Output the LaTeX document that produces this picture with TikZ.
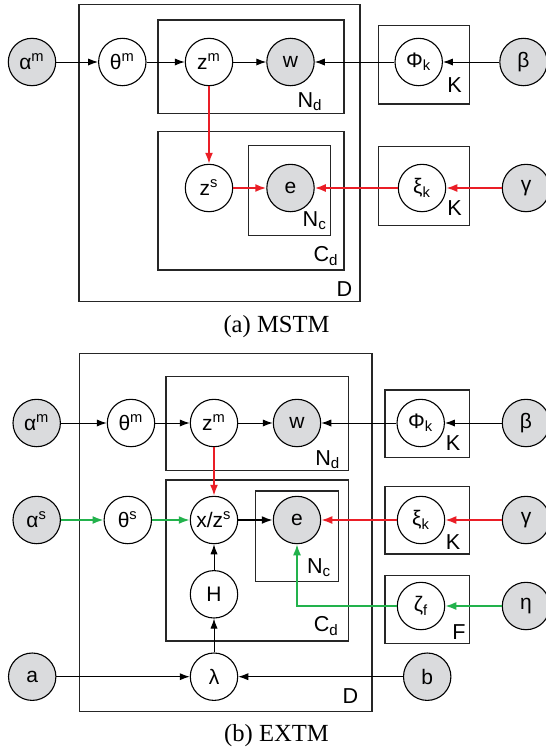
\documentclass[tikz,border=0pt]{standalone}
\usepackage{fontspec}
\setmainfont{Liberation Serif}
\newfontfamily\gmfont{Liberation Sans}
\usetikzlibrary{arrows.meta}
\definecolor{obsgray}{RGB}{218,219,221}
\definecolor{edgered}{RGB}{234,30,38}
\definecolor{edgegreen}{RGB}{34,178,76}
\tikzset{
	var/.style={circle, draw, line width=0.55pt, minimum size=23.7pt, inner sep=0pt, fill=white, font=\gmfont\fontsize{10.5}{12}\selectfont},
	obs/.style={var, fill=obsgray},
	plate/.style={draw=black!85, line width=0.55pt},
	platelabel/.style={anchor=base east, inner sep=0pt, font=\gmfont\fontsize{10.8}{12}\selectfont},
	caption/.style={anchor=base, inner sep=0pt, font=\fontsize{12.3}{14}\selectfont},
	blkarr/.style={-{Latex[length=5pt,width=3.6pt]}, line width=0.5pt},
	thkarr/.style={-{Latex[length=5.5pt,width=4pt]}, line width=0.9pt},
	redarr/.style={thkarr, color=edgered},
	grnarr/.style={thkarr, color=edgegreen}
}

\begin{document}
\begin{tikzpicture}[x=0.5pt, y=-0.5pt]
			\path[use as bounding box, fill=white] (0, 0) rectangle (546, 750);
			
			%%%%% (a) MSTM %%%%%
			
			\draw[plate] (79, 4.3) rectangle (360, 301.7);
			\draw[plate] (158, 20) rectangle (344, 113.3);
			\draw[plate] (158, 131.7) rectangle (344, 270);
			\draw[plate] (248.3, 145.7) rectangle (330.7, 235.3);
			\draw[plate] (378.3, 25.7) rectangle (469.3, 104);
			\draw[plate] (378.3, 146.7) rectangle (469.3, 225.3);
			
			\node[platelabel] (lblD) at (352.7, 296.7) {D};
			\node[platelabel] (lblNd) at (323, 107.3) {N\textsubscript{d}};
			\node[platelabel] (lblCd) at (339, 261.7) {C\textsubscript{d}};
			\node[platelabel] (lblNc) at (327.3, 226.7) {N\textsubscript{c}};
			\node[platelabel] (lblKa) at (462.3, 92.7) {K};
			\node[platelabel] (lblKb) at (462.3, 215) {K};
			
			\node[obs] (alpham) at (32, 62) {α\textsuperscript{m}};
			\node[var] (thetam) at (122.3, 62) {θ\textsuperscript{m}};
			\node[var] (zm) at (209, 62) {z\textsuperscript{m}};
			\node[obs] (w) at (290.5, 62) {w};
			\node[var] (phi) at (418.7, 62) {Φ\textsubscript{k}};
			\node[obs] (beta) at (523.5, 62) {β};
			\node[var] (zs) at (209, 188) {z\textsuperscript{s}};
			\node[obs] (e) at (290.5, 188) {e};
			\node[var] (xi) at (422, 188) {ξ\textsubscript{k}};
			\node[obs] (gamma) at (526, 188) {γ};
			
			\draw[blkarr] (alpham) -- (thetam);
			\draw[blkarr] (thetam) -- (zm);
			\draw[blkarr] (zm) -- (w);
			\draw[blkarr] (phi) -- (w);
			\draw[blkarr] (beta) -- (phi);
			\draw[redarr] (zm) -- (zs);
			\draw[redarr] (zs) -- (e);
			\draw[redarr] (xi) -- (e);
			\draw[redarr] (gamma) -- (xi);
			
			\node[caption] (capa) at (276.5, 332) {(a) MSTM};
			
			%%%%% (b) EXTM %%%%%
			
			\draw[plate] (79.3, 353.3) rectangle (372, 711.7);
			\draw[plate] (166, 376.7) rectangle (348.3, 470.7);
			\draw[plate] (166, 480) rectangle (348.3, 641);
			\draw[plate] (255.3, 491) rectangle (338.7, 581.7);
			\draw[plate] (385, 390) rectangle (469.3, 457.7);
			\draw[plate] (385, 486.7) rectangle (469.3, 554);
			\draw[plate] (385, 575.7) rectangle (469.3, 643.3);
			
			\node[platelabel] (lblDb) at (358.7, 703.3) {D};
			\node[platelabel] (lblNdb) at (340.7, 465) {N\textsubscript{d}};
			\node[platelabel] (lblCdb) at (339.3, 631.7) {C\textsubscript{d}};
			\node[platelabel] (lblNcb) at (331.7, 573.3) {N\textsubscript{c}};
			\node[platelabel] (lblKc) at (460.7, 450.7) {K};
			\node[platelabel] (lblKd) at (460.7, 549.3) {K};
			\node[platelabel] (lblF) at (466, 639.3) {F};
			
			\node[obs] (alphamb) at (36.7, 423) {α\textsuperscript{m}};
			\node[var] (thetamb) at (131, 423) {θ\textsuperscript{m}};
			\node[var] (zmb) at (214, 423) {z\textsuperscript{m}};
			\node[obs] (wb) at (297, 423) {w};
			\node[var] (phib) at (420.7, 423) {Φ\textsubscript{k}};
			\node[obs] (betab) at (526, 423) {β};
			\node[obs] (alphas) at (36.7, 520) {α\textsuperscript{s}};
			\node[var] (thetas) at (127.8, 520) {θ\textsuperscript{s}};
			\node[var] (xzs) at (214, 520) {x/z\textsuperscript{s}};
			\node[obs] (eb) at (297, 520) {e};
			\node[var] (xib) at (421, 520) {ξ\textsubscript{k}};
			\node[obs] (gammab) at (526, 520) {γ};
			\node[var] (H) at (214, 594.3) {H};
			\node[var] (zeta) at (421, 606) {ζ\textsubscript{f}};
			\node[obs] (eta) at (526, 606) {η};
			\node[obs] (a) at (32.2, 676.7) {a};
			\node[var] (lambda) at (214, 676.7) {λ};
			\node[obs] (b) at (427.2, 676.7) {b};
			
			\draw[blkarr] (alphamb) -- (thetamb);
			\draw[blkarr] (thetamb) -- (zmb);
			\draw[blkarr] (zmb) -- (wb);
			\draw[blkarr] (phib) -- (wb);
			\draw[blkarr] (betab) -- (phib);
			\draw[redarr] (zmb) -- (xzs);
			\draw[grnarr] (alphas) -- (thetas);
			\draw[grnarr] (thetas) -- (xzs);
			\draw[thkarr] (xzs) -- (eb);
			\draw[redarr] (xib) -- (eb);
			\draw[redarr] (gammab) -- (xib);
			\draw[grnarr] (eta) -- (zeta);
			\draw[grnarr] (zeta) -| (eb);
			\draw[blkarr] (H) -- (xzs);
			\draw[blkarr] (lambda) -- (H);
			\draw[blkarr] (a) -- (lambda);
			\draw[blkarr] (b) -- (lambda);
			
			\node[caption] (capb) at (276.5, 741) {(b) EXTM};
			
			%%%%% END %%%%%
\end{tikzpicture}
\end{document}
